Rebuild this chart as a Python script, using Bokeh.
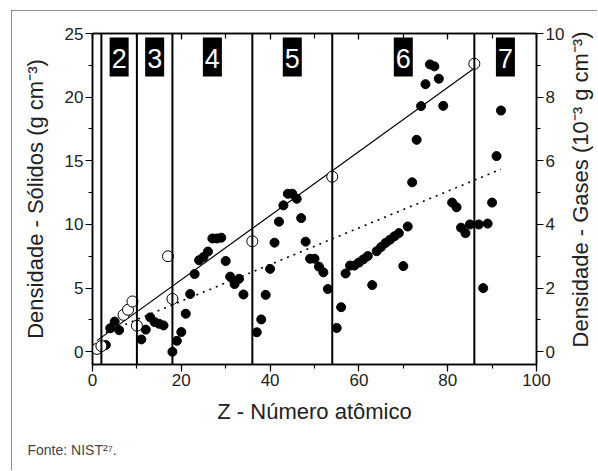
import math
from bokeh.plotting import figure
from bokeh.models import (Range1d, LinearAxis, Span, Label, ColumnDataSource,
                          SingleIntervalTicker, Title)
from bokeh.core.properties import value
from bokeh.embed import file_html
from bokeh.resources import INLINE

# ---- data ----
solid_z = [3, 4, 5, 6, 11, 12, 13, 14, 15, 16, 18, 19, 20, 21, 22, 23, 24, 25, 26, 27,
           28, 29, 30, 31, 32, 33, 34, 37, 38, 39, 40, 41, 42, 43, 44, 45, 46, 47, 48, 49,
           50, 51, 52, 53, 55, 56, 57, 58, 59, 60, 61, 62, 63, 64, 65, 66, 67, 68, 69, 70,
           71, 72, 73, 74, 75, 76, 77, 78, 79, 81, 82, 83, 84, 85, 87, 88, 89, 90, 91, 92]
solid_density = [0.53, 1.85, 2.37, 1.70, 0.97, 1.74, 2.70, 2.33, 2.20, 2.07, 0.0, 0.86, 1.55, 2.99,
                 4.54, 6.11, 7.19, 7.44, 7.87, 8.90, 8.90, 8.96, 7.13, 5.90, 5.32, 5.73, 4.50,
                 1.53, 2.54, 4.47, 6.51, 8.57, 10.22, 11.50, 12.41, 12.41, 12.02, 10.50, 8.65,
                 7.31, 7.31, 6.69, 6.24, 4.93, 1.87, 3.50, 6.15, 6.77, 6.77, 7.01, 7.26, 7.52,
                 5.24, 7.90, 8.23, 8.55, 8.80, 9.07, 9.32, 6.73, 9.84, 13.31, 16.65, 19.30,
                 21.02, 22.57, 22.42, 21.45, 19.32, 11.72, 11.35, 9.75, 9.32, 10.0, 10.0, 5.0,
                 10.07, 11.72, 15.37, 18.95]
gas_z = [1, 2, 7, 8, 9, 10, 17, 18, 36, 54, 86]
gas_density = [0.09, 0.18, 1.16, 1.32, 1.58, 0.82, 3.00, 1.66, 3.47, 5.50, 9.05]  # 10^-3 g cm^-3

solid_fit_z = [3, 92]
solid_fit_density = [1.52, 14.34]
gas_fit_z = [1, 86]
gas_fit_density = [0.35, 8.91]

period_end_z = [2, 10, 18, 36, 54, 86]
period_numbers = ["2", "3", "4", "5", "6", "7"]
period_center_z = [6, 14, 27, 45, 70, 93]

x_ticks = [0, 20, 40, 60, 80, 100]

FONT = "Liberation Sans"
TXT = "#222222"

p = figure(width=586, height=460, x_range=Range1d(0, 100), y_range=Range1d(-1, 25),
           output_backend="svg", toolbar_location=None, tools="",
           x_axis_location=None, y_axis_location=None,
           min_border_left=80, min_border_right=62, min_border_top=22, min_border_bottom=107,
           margin=(10, 0, 0, 11),
           styles={"border-left": "1px solid #8c8c8c", "border-top": "1px solid #8c8c8c"})
p.extra_y_ranges = {"gas": Range1d(-0.4, 10)}
p.grid.visible = False
p.outline_line_color = "black"
p.outline_line_width = 1.5
p.background_fill_color = "white"
p.border_fill_color = "white"


def style(ax, label_size="22px"):
    ax.axis_line_color = "black"
    ax.axis_line_width = 1.5
    ax.major_tick_line_color = "black"
    ax.minor_tick_line_color = "black"
    ax.major_tick_line_width = 1.2
    ax.minor_tick_line_width = 1.2
    ax.major_tick_out = 7
    ax.major_tick_in = 0
    ax.minor_tick_out = 4
    ax.minor_tick_in = 0
    ax.major_label_text_font = FONT
    ax.major_label_text_font_size = "17px"
    ax.major_label_text_color = TXT
    ax.major_label_standoff = 2
    ax.axis_label_text_font = FONT
    ax.axis_label_text_font_size = label_size
    ax.axis_label_text_font_style = "normal"
    ax.axis_label_text_color = TXT


bottom = LinearAxis(ticker=SingleIntervalTicker(interval=20, num_minor_ticks=2),
                    axis_label="Z - Número atômico")
style(bottom)
bottom.axis_label_standoff = 10
p.add_layout(bottom, "below")

left = LinearAxis(ticker=SingleIntervalTicker(interval=5, num_minor_ticks=2),
                  axis_label="Densidade - Sólidos (g cm⁻³)")
style(left)
left.axis_label_standoff = 14
p.add_layout(left, "left")

right = LinearAxis(y_range_name="gas", ticker=SingleIntervalTicker(interval=2, num_minor_ticks=2))
style(right)
p.add_layout(right, "right")

top = LinearAxis(ticker=SingleIntervalTicker(interval=20, num_minor_ticks=2))
style(top)
top.major_tick_out = 0
top.minor_tick_out = 0
top.major_tick_in = 6
top.minor_tick_in = 5
top.major_label_overrides = {t: "" for t in x_ticks}
top.major_label_standoff = 0
p.add_layout(top, "above")

# period boundaries
for z in period_end_z:
    p.add_layout(Span(location=z, dimension="height", line_color="black", line_width=2))

# period labels
label_y = 23.15
lab_src = ColumnDataSource(dict(x=period_center_z, y=[label_y] * len(period_center_z), t=period_numbers))
p.rect(x="x", y="y", width=19, height=39, width_units="screen", height_units="screen",
       fill_color="black", line_color=None, source=lab_src)
p.text(x="x", y="y", text="t", text_color="white", text_font=value(FONT), text_font_size="27px",
       text_align="center", text_baseline="middle", y_offset=1, source=lab_src)

# fit lines
p.line(gas_fit_z, gas_fit_density, y_range_name="gas", line_color="black", line_width=1.2)
p.line(solid_fit_z, solid_fit_density, line_color="black", line_width=1.6, line_dash="2 5")

# points
p.scatter(solid_z, solid_density, size=9, marker="circle", fill_color="black", line_color="black")
p.scatter(gas_z, gas_density, y_range_name="gas", size=11, marker="circle",
          fill_color="white", line_color="black", line_width=1)

# right-hand axis title (reads bottom to top), placed in its own side panel
p.add_layout(Label(x=13, y=175, x_units="screen", y_units="screen", angle=math.pi / 2,
                   text="Densidade - Gases (10⁻³ g cm⁻³)", text_font=FONT, text_font_size="22px",
                   text_color=TXT, text_align="center", text_baseline="middle"), "right")

# footer
p.add_layout(Title(text="Fonte: NIST²⁷.", align="left", offset=-65,
                   text_font=FONT, text_font_size="14px", text_color="#444444",
                   text_font_style="normal", standoff=26), "below")

open("out.html", "w").write(file_html(p, INLINE))
